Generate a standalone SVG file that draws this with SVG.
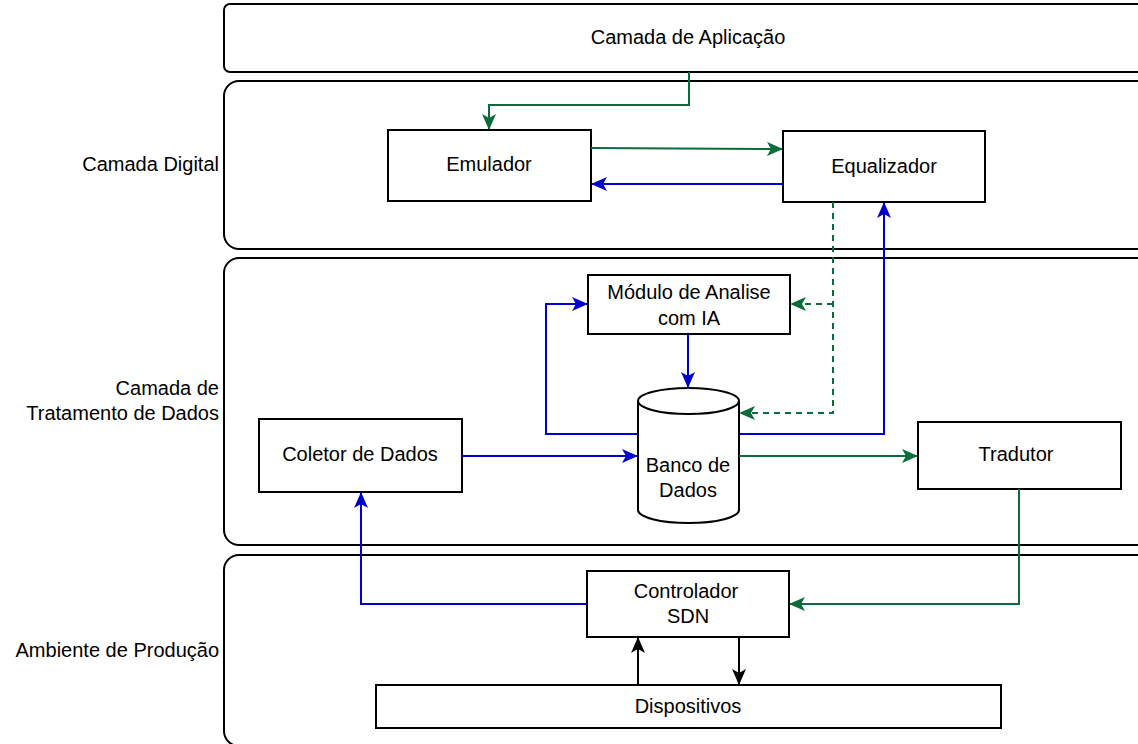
<svg xmlns="http://www.w3.org/2000/svg" width="1138" height="744" viewBox="0 0 1138 744">
<style>
.layer{fill:#fff;stroke:#000;stroke-width:2}
.box{fill:#fff;stroke:#000;stroke-width:2}
text{font-family:"Liberation Sans",Arial,sans-serif;font-size:20px;fill:#000}
.c{text-anchor:middle}
.r{text-anchor:end}
.g{fill:none;stroke:#0b6b3a;stroke-width:2}
.b{fill:none;stroke:#0000cc;stroke-width:2}
.k{fill:none;stroke:#000;stroke-width:2}
.d{stroke-dasharray:6 5}
</style>
<defs>
<marker id="ag" viewBox="0 0 16 14" refX="15" refY="7" markerWidth="16" markerHeight="14" markerUnits="userSpaceOnUse" orient="auto"><path d="M0,0 L16,7 L0,14 L4,7 z" fill="#0b6b3a"/></marker>
<marker id="ab" viewBox="0 0 16 14" refX="15" refY="7" markerWidth="16" markerHeight="14" markerUnits="userSpaceOnUse" orient="auto"><path d="M0,0 L16,7 L0,14 L4,7 z" fill="#0000cc"/></marker>
<marker id="ak" viewBox="0 0 16 14" refX="15" refY="7" markerWidth="16" markerHeight="14" markerUnits="userSpaceOnUse" orient="auto"><path d="M0,0 L16,7 L0,14 L4,7 z" fill="#000"/></marker>
</defs>
<g id="layers">
<g id="layer-app"><rect class="layer" x="224" y="4" width="940" height="68" rx="6"/><text class="c" x="688" y="44">Camada de Aplicação</text></g>
<g id="layer-digital"><rect class="layer" x="224" y="81" width="940" height="168" rx="15"/><text class="r" x="219" y="171">Camada Digital</text></g>
<g id="layer-data"><rect class="layer" x="224" y="258" width="940" height="287" rx="15"/><text class="r" x="219" y="395">Camada de</text><text class="r" x="219" y="420">Tratamento de Dados</text></g>
<g id="layer-prod"><rect class="layer" x="224" y="555" width="940" height="191" rx="15"/><text class="r" x="219" y="657">Ambiente de Produção</text></g>
</g>
<g id="emulador"><rect class="box" x="388" y="130" width="203" height="71"/><text class="c" x="489" y="171">Emulador</text></g>
<g id="equalizador"><rect class="box" x="783" y="131" width="202" height="71"/><text class="c" x="884" y="173">Equalizador</text></g>
<g id="modulo"><rect class="box" x="588" y="275" width="202" height="59"/><text class="c" x="689" y="299">Módulo de Analise</text><text class="c" x="689" y="325">com IA</text></g>
<g id="banco"><path class="box" d="M638,401 A50.5,13 0 0 1 739,401 L739,510 A50.5,13 0 0 1 638,510 Z"/><path class="box" d="M638,401 A50.5,13 0 0 0 739,401" fill="none"/><text class="c" x="688" y="472">Banco de</text><text class="c" x="688" y="497">Dados</text></g>
<g id="coletor"><rect class="box" x="259" y="419" width="203" height="73"/><text class="c" x="360" y="461">Coletor de Dados</text></g>
<g id="tradutor"><rect class="box" x="918" y="422" width="203" height="67"/><text class="c" x="1016" y="461">Tradutor</text></g>
<g id="controlador"><rect class="box" x="587" y="571" width="202" height="66"/><text class="c" x="686" y="598">Controlador</text><text class="c" x="688" y="623">SDN</text></g>
<g id="dispositivos"><rect class="box" x="376" y="685" width="625" height="43"/><text class="c" x="688" y="713">Dispositivos</text></g>
<g id="connectors">
<path class="g" d="M689,72 V105 H489 V129" marker-end="url(#ag)"/>
<path class="g" d="M591,148 L782,149" marker-end="url(#ag)"/>
<path class="b" d="M783,184 H592" marker-end="url(#ab)"/>
<path class="g d" d="M833,202 V413 H740" marker-end="url(#ag)"/>
<path class="g d" d="M833,304 H791" marker-end="url(#ag)"/>
<path class="b" d="M739,434 H884 V203" marker-end="url(#ab)"/>
<path class="b" d="M638,434 H546 V304 H587" marker-end="url(#ab)"/>
<path class="b" d="M688,334 V387" marker-end="url(#ab)"/>
<path class="b" d="M462,456 H637" marker-end="url(#ab)"/>
<path class="g" d="M739,456 H917" marker-end="url(#ag)"/>
<path class="g" d="M1019,489 V604 H790" marker-end="url(#ag)"/>
<path class="b" d="M587,604 H361 V493" marker-end="url(#ab)"/>
<path class="k" d="M638,685 V638" marker-end="url(#ak)"/>
<path class="k" d="M739,637 V684" marker-end="url(#ak)"/>
</g>
</svg>
